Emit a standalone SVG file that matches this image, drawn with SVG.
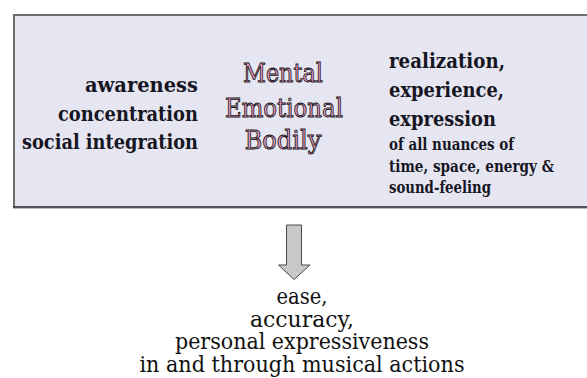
<svg xmlns="http://www.w3.org/2000/svg" width="587" height="378" viewBox="0 0 587 378">
<style>
text{font-family:'DejaVu Serif','Liberation Serif',serif}
.bold{font-weight:bold;fill:#161622}
.big{font-size:21px}
.small{font-size:16px}
.mid{font-size:26px;fill:#ee9ec4;stroke:#141414;stroke-width:0.9;text-anchor:middle}
.out{font-size:23px;fill:#111;text-anchor:middle}
</style>
<rect width="587" height="378" fill="#ffffff"/>
<g id="box">
<rect x="13" y="14" width="580" height="193" fill="#e6e6f2"/>
<line x1="13" y1="15" x2="587" y2="15" stroke="#6e6e6e" stroke-width="2"/>
<line x1="14" y1="14" x2="14" y2="207" stroke="#6e6e6e" stroke-width="2"/>
<line x1="13" y1="207" x2="587" y2="207" stroke="#1c1c2c" stroke-width="1.5"/>
<line x1="13" y1="208.5" x2="587" y2="208.5" stroke="#bdbdbd" stroke-width="1"/>
</g>
<g id="left">
<text class="bold big" text-anchor="end" x="198" y="92" textLength="113" lengthAdjust="spacingAndGlyphs">awareness</text>
<text class="bold big" text-anchor="end" x="198" y="120.5" textLength="140" lengthAdjust="spacingAndGlyphs">concentration</text>
<text class="bold big" text-anchor="end" x="198" y="149" textLength="176" lengthAdjust="spacingAndGlyphs">social integration</text>
</g>
<g id="middle">
<text class="mid" x="283" y="82" textLength="80" lengthAdjust="spacingAndGlyphs">Mental</text>
<text class="mid" x="284" y="116.5" textLength="118" lengthAdjust="spacingAndGlyphs">Emotional</text>
<text class="mid" x="283" y="149" textLength="77" lengthAdjust="spacingAndGlyphs">Bodily</text>
</g>
<g id="right">
<text class="bold big" x="389" y="68" textLength="116" lengthAdjust="spacingAndGlyphs">realization,</text>
<text class="bold big" x="389" y="97" textLength="115" lengthAdjust="spacingAndGlyphs">experience,</text>
<text class="bold big" x="389" y="126" textLength="107" lengthAdjust="spacingAndGlyphs">expression</text>
<text class="bold small" x="389" y="150" textLength="125" lengthAdjust="spacingAndGlyphs">of all nuances of</text>
<text class="bold small" x="389" y="171.5" textLength="165" lengthAdjust="spacingAndGlyphs">time, space, energy &amp;</text>
<text class="bold small" x="389" y="192.5" textLength="102" lengthAdjust="spacingAndGlyphs">sound-feeling</text>
</g>
<g id="connectors">
<polygon points="286.5,225 301.5,225 301.5,265 310,265 294,279.5 278.5,265 286.5,265" fill="#c8c8c8" stroke="#4a4a4a" stroke-width="1"/>
</g>
<g id="result">
<text class="out" x="302" y="304" textLength="51" lengthAdjust="spacingAndGlyphs">ease,</text>
<text class="out" x="302" y="326.5" textLength="104" lengthAdjust="spacingAndGlyphs">accuracy,</text>
<text class="out" x="302" y="349" textLength="254" lengthAdjust="spacingAndGlyphs">personal expressiveness</text>
<text class="out" x="302" y="371.5" textLength="325" lengthAdjust="spacingAndGlyphs">in and through musical actions</text>
</g>
</svg>
